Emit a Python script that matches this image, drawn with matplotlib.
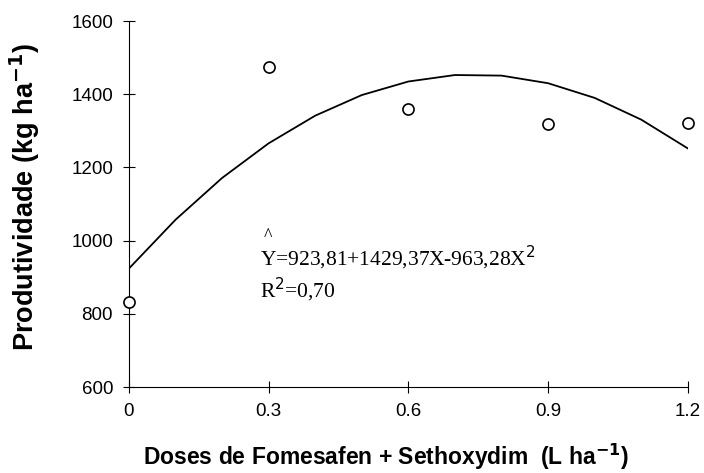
import matplotlib
matplotlib.use("Agg")
import matplotlib.pyplot as plt

# observed data
doses = [0, 0.3, 0.6, 0.9, 1.2]
produtividade = [832, 1475, 1360, 1318, 1322]

# fitted curve Y=923,81+1429,37X-963,28X^2 (values read at each 0.1)
fit_x = [0, 0.1, 0.2, 0.3, 0.4, 0.5, 0.6, 0.7, 0.8, 0.9, 1.0, 1.1, 1.2]
fit_y = [923.8, 1057.1, 1171.2, 1265.9, 1341.4, 1397.7, 1434.7, 1452.4,
         1450.8, 1430.0, 1389.9, 1330.5, 1251.9]

xticks = [0, 0.3, 0.6, 0.9, 1.2]
xtick_labels = ["0", "0.3", "0.6", "0.9", "1.2"]
yticks = [600, 800, 1000, 1200, 1400, 1600]

plt.rcParams['font.family'] = ['Liberation Sans', 'DejaVu Sans']

fig = plt.figure(figsize=(7.04, 4.73), dpi=100)
ax = fig.add_axes([0.1832, 0.1818, 0.7938, 0.7738])

ax.plot(fit_x, fit_y, color="black", linewidth=1.3, zorder=2)
ax.plot(doses, produtividade, 'o', markerfacecolor="white", markeredgecolor="black",
        markersize=8, markeredgewidth=1.2, clip_on=False, zorder=3)

ax.set_xlim(0, 1.2)
ax.set_ylim(600, 1600)
ax.set_xticks(xticks)
ax.set_xticklabels(xtick_labels)
ax.set_yticks(yticks)
ax.spines['top'].set_visible(False)
ax.spines['right'].set_visible(False)
ax.tick_params(direction='inout', length=9, width=0.8, labelsize=13.5, pad=7)

ax.set_ylabel("Produtividade (kg ha$^{\\mathbf{-1}}$)", fontsize=19.5, fontweight="bold")
ax.yaxis.set_label_coords(-0.155, 0.52)
ax.set_xlabel("Doses de Fomesafen + Sethoxydim  (L ha$^{\\mathbf{-1}}$)", fontsize=16.5,
              fontweight="bold")
ax.xaxis.set_label_coords(0.46, -0.15)

serif = dict(family=['Liberation Serif', 'DejaVu Serif'], fontsize=15.5)
ax.text(0.298, 1012, "^", ha="center", va="center", family=['Liberation Serif'], fontsize=13)
ax.text(0.281, 931, "Y=923,81+1429,37X-963,28X$^{2}$", **serif)
ax.text(0.281, 843, "R$^{2}$=0,70", **serif)

fig.savefig("out.png", dpi=100)
